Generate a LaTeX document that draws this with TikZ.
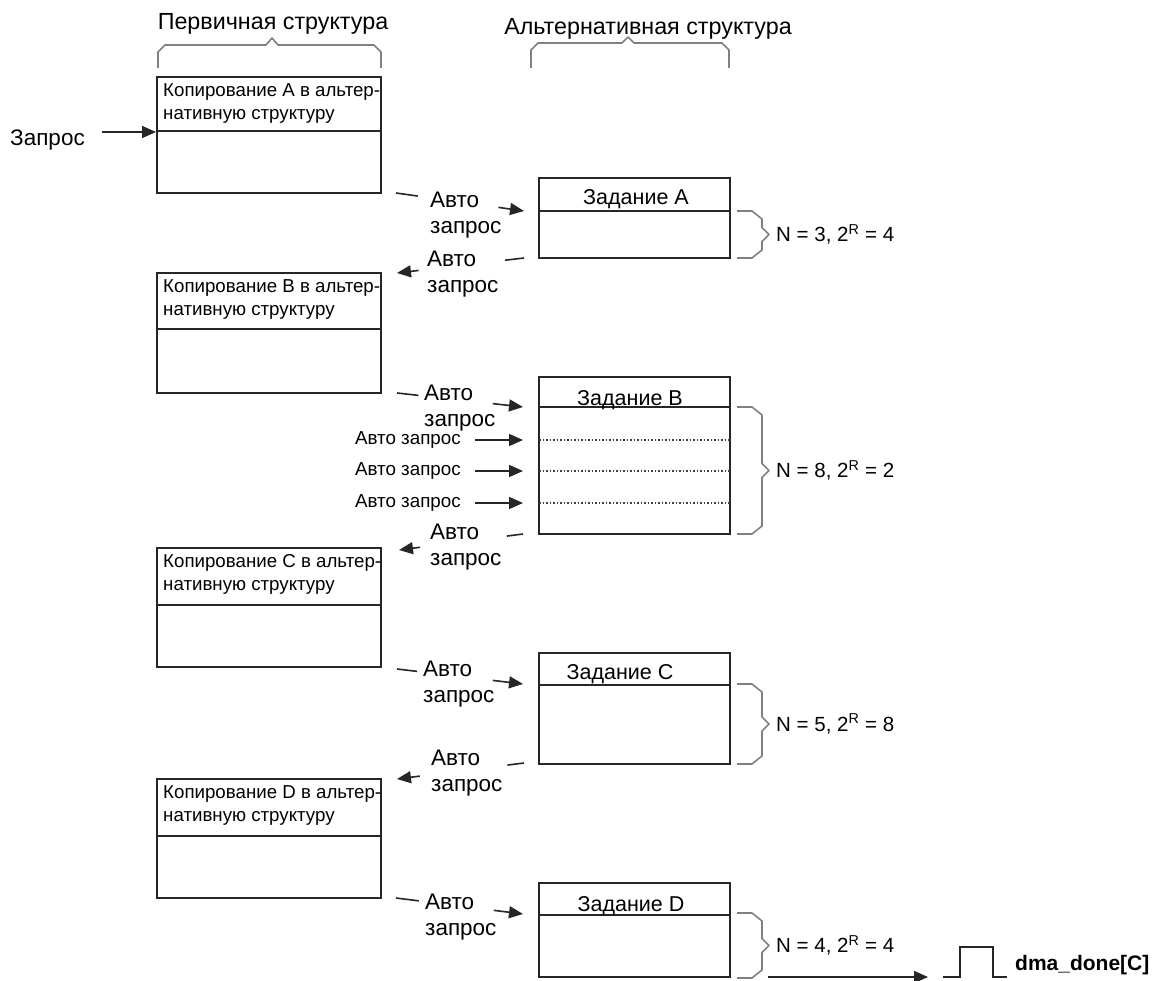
\documentclass[tikz,border=0pt]{standalone}
\usepackage{fontspec}
\setmainfont{Liberation Sans}
\usepackage{tikz}
\usetikzlibrary{arrows.meta,calc}
\definecolor{ink}{HTML}{262626}
\definecolor{bracegray}{HTML}{808080}
\definecolor{dotgray}{HTML}{404040}

\begin{document}
\begin{tikzpicture}[x=1pt,y=-1pt,
        boxline/.style={draw=ink,line width=1.7pt},
        brace/.style={draw=bracegray,line width=1.6pt,line join=round},
        conn/.style={draw=ink,line width=1.6pt},
        tip/.style={-{Triangle[length=14pt,width=12pt]}},
        dotline/.style={draw=dotgray,line width=1.2pt,dash pattern=on 1.5pt off 2pt},
        hdr/.style={font=\fontsize{23.3}{27}\selectfont,inner sep=0pt},
        big/.style={font=\fontsize{22.5}{26}\selectfont,inner sep=0pt,align=left},
        copytxt/.style={font=\fontsize{18.7}{23}\selectfont,inner sep=0pt,align=left},
        small/.style={font=\fontsize{18.8}{22}\selectfont,inner sep=0pt},
        tasktxt/.style={font=\fontsize{21.5}{25}\selectfont,inner sep=0pt},
        nlab/.style={font=\fontsize{20.5}{24}\selectfont,inner sep=0pt}]
        \useasboundingbox (0,0) rectangle (1157,981);

        % column headers
        \node[hdr,anchor=base] (hdrPrim) at (273,30) {Первичная структура};
        \node[hdr,anchor=base] (hdrAlt) at (648,35) {Альтернативная структура};
        \draw[brace] (158,68) -- (158,52) -- (165,45) -- (266,45) -- (272,38) -- (278,45) -- (374,45) -- (381,52) -- (381,68);
        \draw[brace] (531,68) -- (531,50) -- (538,43) -- (622,43) -- (628,37) -- (634,43) -- (722,43) -- (729,50) -- (729,68);

        % request in
        \node[big,anchor=base west] (req) at (10,146) {Запрос};
        \coordinate (reqFrom) at (102,132);
        \coordinate (reqTo) at (156,132);
        \draw[conn,tip] (reqFrom) -- (reqTo);

        % primary structure
        \foreach \n/\ya/\yd/\yb in {A/77/131/193, B/273/329/393, C/548/605/667, D/779/836/898}{
                \draw[boxline] (157,\ya) rectangle (381,\yb);
                \draw[boxline] (157,\yd) -- (381,\yd);
                \node[copytxt,anchor=north west] (copy\n) at (163,\ya+6) {Копирование \n{} в альтер-\\нативную структуру};
            }

        % alternate structure
        \foreach \n/\ya/\yd/\yb/\cx/\ty in {A/178/211/258/636/205, B/377/407/534/630/406, C/653/685/764/620/679, D/883/915/977/631/911}{
                \draw[boxline] (539,\ya) rectangle (730,\yb);
                \draw[boxline] (539,\yd) -- (730,\yd);
                \node[tasktxt,anchor=base] (task\n) at (\cx,\ty) {Задание \n};
            }

        % extra requests inside task B
        \foreach \y in {440,471,503}{
                \draw[dotline] (539,\y) -- (730,\y);
                \node[small,anchor=east] (auto\y) at (461,\y) {Авто запрос};
                \coordinate (in\y) at (523,\y);
                \draw[conn,tip] ([xshift=14pt]auto\y.east) -- (in\y);
            }

        % auto requests between the two structures
        \foreach \i/\sx/\sy/\ex/\ey/\ga/\gb/\lx/\ly in {
        1/396/193/524/211/.17/.80/430/192,
        2/524/258/397/273/.15/.83/427/251,
        3/397/393/523/407/.17/.76/424/385,
        4/523/534/399/550/.13/.83/430/524,
        5/397/669/523/684/.16/.76/423/661,
        6/524/763/397/779/.13/.82/431/750,
        7/396/898/523/914/.18/.77/425/894}{
        \coordinate (from\i) at (\sx,\sy);
        \coordinate (to\i) at (\ex,\ey);
        \node[big,anchor=north west] (hand\i) at (\lx,\ly) {Авто\\запрос};
        \draw[conn] (from\i) -- ($(from\i)!\ga!(to\i)$);
        \draw[conn,tip] ($(from\i)!\gb!(to\i)$) -- (to\i);
        }

        % transfer sizes
        \foreach \n/\ya/\yb/\lab in {%
        A/211/258/{N = 3, 2\textsuperscript{R} = 4},
        B/407/534/{N = 8, 2\textsuperscript{R} = 2},
        C/684/764/{N = 5, 2\textsuperscript{R} = 8},
        D/913/978/{N = 4, 2\textsuperscript{R} = 4}}{
        \pgfmathsetmacro\ym{(\ya+\yb)/2}
        \draw[brace] (737,\ya) -- (752,\ya) -- (762,\ya+8) -- (762,\ym-7) -- (769,\ym) -- (762,\ym+7) -- (762,\yb-8) -- (752,\yb) -- (737,\yb);
        \node[nlab,anchor=west] (size\n) at (776,\ym) {\lab};
        }

        % done pulse
        \coordinate (doneFrom) at (768,977);
        \coordinate (doneTo) at (928,977);
        \draw[conn,tip] (doneFrom) -- (doneTo);
        \draw[conn] (943,977) -- (960,977) -- (960,947) -- (993,947) -- (993,977) -- (1007,977);
        \node[nlab,font=\fontsize{21}{25}\selectfont\bfseries,anchor=base west] (done) at (1015,970) {dma\_done[C]};
    \end{tikzpicture}
\end{document}
